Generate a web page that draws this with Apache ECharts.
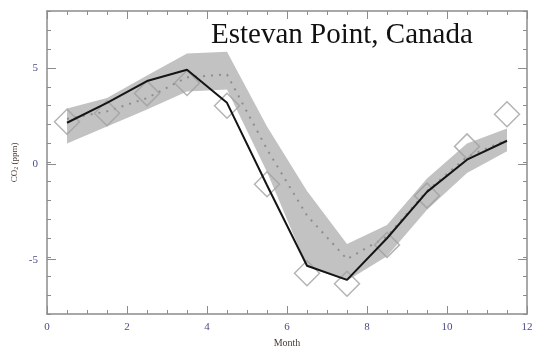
<!DOCTYPE html>
<html>
<head>
<meta charset="utf-8">
<script src="https://cdn.jsdelivr.net/npm/echarts@6/dist/echarts.min.js"></script>
<style>
  html, body { margin: 0; padding: 0; background: #fff; }
  #chart { width: 536px; height: 353px; }
</style>
</head>
<body>
<div id="chart"></div>
<script>
// monthly CO2 seasonal cycle, Estevan Point
const months = [0.5, 1.5, 2.5, 3.5, 4.5, 5.5, 6.5, 7.5, 8.5, 9.5, 10.5, 11.5]
const observed = [2.15, 2.6, 3.65, 4.2, 3.0, -1.15, -5.85, -6.4, -4.35, -1.75, 0.85, 2.55]
const model = [2.1, 3.15, 4.3, 4.9, 3.15, -1.2, -5.45, -6.2, -4.0, -1.55, 0.15, 1.15]
const ensembleMean = [2.3, 2.7, 3.4, 4.5, 4.65, 0.7, -2.8, -5.1, -3.9, -1.5, 0.3, 1.2]
const bandUpper = [2.85, 3.4, 4.6, 5.75, 5.85, 1.9, -1.5, -4.3, -3.3, -0.85, 1.0, 1.8]
const bandLower = [1.0, 1.9, 2.8, 3.75, 3.85, -0.5, -5.5, -6.25, -4.95, -2.5, -0.55, 0.6]
const yMajor = [-5, 0, 5]

const pairs = arr => months.map((m, i) => [m, arr[i]])

const chart = echarts.init(document.getElementById('chart'))

const axisColor = '#8c8c8c'
const labelColor = '#4a4c86'
const serif = 'Liberation Serif'
const plotBox = { left: 47, right: 9, top: 11, bottom: 36 }

// grid 0: data + short ticks, grid 1: same box, long ticks + labels on y
const minorY = (position) => ({
  gridIndex: 0, type: 'value', position, min: -8, max: 8, interval: 1,
  axisLine: { show: true, onZero: false, lineStyle: { color: axisColor, width: 1.5 } },
  axisTick: { show: true, inside: true, length: 4, lineStyle: { color: axisColor } },
  axisLabel: { show: false },
  splitLine: { show: false }
})
const majorY = (position, withLabel) => ({
  gridIndex: 1, type: 'value', position, min: -8, max: 8,
  axisLine: { show: false, onZero: false },
  axisTick: { show: true, inside: true, length: 9, customValues: yMajor, lineStyle: { color: axisColor } },
  axisLabel: withLabel
    ? { show: true, customValues: yMajor, color: labelColor, fontFamily: serif, fontSize: 11, margin: 9 }
    : { show: false },
  splitLine: { show: false }
})

const xAxisBase = (position, withLabel) => ({
  gridIndex: 0, type: 'value', position, min: 0, max: 12, interval: 2,
  axisLine: { show: true, onZero: false, lineStyle: { color: axisColor, width: 1.5 } },
  axisTick: { show: true, inside: true, length: 8, lineStyle: { color: axisColor } },
  minorTick: { show: true, splitNumber: 4, length: 4, lineStyle: { color: axisColor } },
  axisLabel: withLabel
    ? { show: true, color: labelColor, fontFamily: serif, fontSize: 11, margin: 8 }
    : { show: false },
  splitLine: { show: false }
})

chart.setOption({
  animation: false,
  backgroundColor: '#fff',
  title: {
    text: 'Estevan Point, Canada',
    left: 206, top: 16,
    textStyle: { fontFamily: serif, fontSize: 29, fontWeight: 'normal', color: '#111' }
  },
  grid: [plotBox, plotBox],
  xAxis: [
    Object.assign(xAxisBase('bottom', true), {
      name: 'Month', nameLocation: 'middle', nameGap: 24,
      nameTextStyle: { fontFamily: serif, fontSize: 10, color: '#4a3a30' }
    }),
    xAxisBase('top', false),
    { gridIndex: 1, type: 'value', min: 0, max: 12, show: false }
  ],
  yAxis: [
    Object.assign(minorY('left'), {
      name: 'CO{sub|2} (ppm)', nameLocation: 'middle', nameGap: 28,
      nameTextStyle: {
        fontFamily: serif, fontSize: 9, color: '#4a3a30',
        rich: { sub: { fontSize: 6, verticalAlign: 'bottom', fontFamily: serif, color: '#4a3a30' } }
      }
    }),
    minorY('right'),
    majorY('left', true),
    majorY('right', false)
  ],
  series: [
    {
      name: 'spread', type: 'custom', xAxisIndex: 0, yAxisIndex: 0,
      data: months.map((m, i) => [m, bandLower[i], bandUpper[i]]),
      encode: { x: 0, y: [1, 2] },
      silent: true, z: 1,
      renderItem: (params, api) => {
        if (params.dataIndex !== 0) return null
        const top = months.map((m, i) => api.coord([m, bandUpper[i]]))
        const bottom = months.map((m, i) => api.coord([m, bandLower[i]])).reverse()
        return {
          type: 'polygon',
          shape: { points: top.concat(bottom) },
          style: { fill: '#c2c2c2', stroke: null }
        }
      }
    },
    {
      name: 'mean', type: 'line', data: pairs(ensembleMean), z: 2,
      symbol: 'none',
      lineStyle: { color: '#8e8e8e', width: 2, type: [2, 6] }
    },
    {
      name: 'observed', type: 'scatter', data: pairs(observed), z: 3,
      symbol: 'diamond', symbolSize: 25,
      itemStyle: { color: 'rgba(0,0,0,0)', borderColor: '#a0a0a0', borderWidth: 1.5 }
    },
    {
      name: 'model', type: 'line', data: pairs(model), z: 4,
      symbol: 'none',
      lineStyle: { color: '#151515', width: 2 }
    }
  ]
})
</script>
</body>
</html>
